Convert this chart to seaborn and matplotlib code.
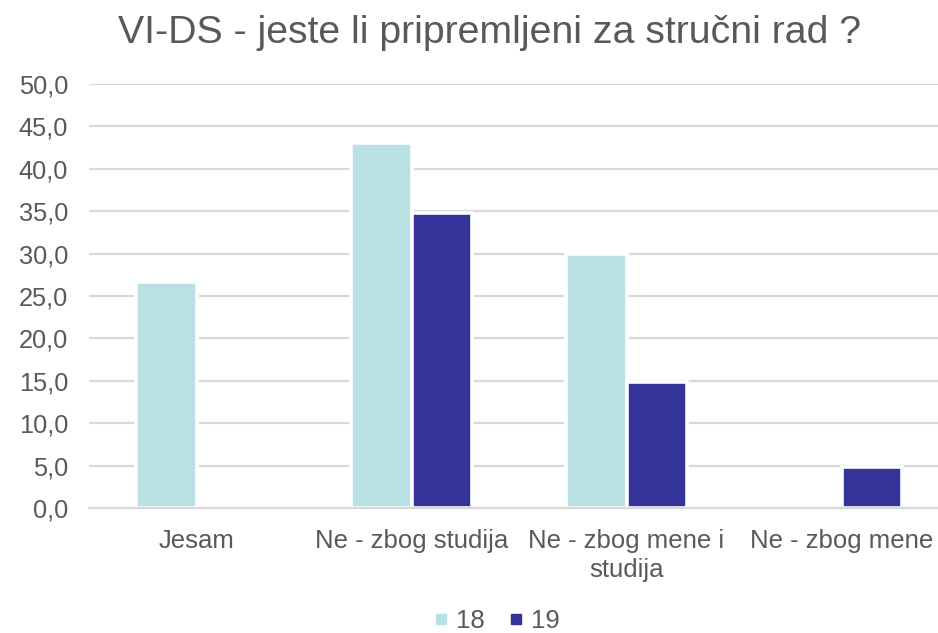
import pandas as pd
import matplotlib
matplotlib.use('Agg')
import matplotlib.pyplot as plt
import seaborn as sns
from matplotlib.ticker import FuncFormatter, FixedLocator
from matplotlib.lines import Line2D

# --- Data ---
categories = ['Jesam', 'Ne - zbog studija', 'Ne - zbog mene i\nstudija', 'Ne - zbog mene']
years = ['18', '19']
values_18 = [26.6, 43.1, 29.9, 0.0]
values_19 = [0.0, 34.8, 14.8, 4.8]
title = 'VI-DS - jeste li pripremljeni za stručni rad ?'

colors = {'18': '#B9E0E3', '19': '#333399'}
text_color = '#595959'
grid_color = '#D9D9D9'

df = pd.DataFrame({
    'Kategorija': categories * 2,
    'Godina': [years[0]] * len(categories) + [years[1]] * len(categories),
    'Vrijednost': values_18 + values_19,
})

sns.set_theme(style='white')
plt.rcParams['font.family'] = ['Liberation Sans', 'DejaVu Sans']

fig = plt.figure(figsize=(9.38, 6.33), dpi=100)
ax = fig.add_axes([89 / 938, (633 - 508) / 633, 860 / 938, (508 - 84) / 633])

sns.barplot(data=df, x='Kategorija', y='Vrijednost', hue='Godina',
            palette=colors, width=0.565, gap=0.0, edgecolor='white',
            linewidth=2.6, saturation=1, legend=False, ax=ax)

# --- Styling ---
ax.set_ylim(0, 50)
ax.set_xlim(-0.5, 3.5)
ax.yaxis.set_major_locator(FixedLocator([i * 5 for i in range(11)]))
ax.yaxis.set_major_formatter(FuncFormatter(lambda v, p: f'{v:.1f}'.replace('.', ',')))
ax.grid(axis='y', color=grid_color, linewidth=1.6)
ax.set_axisbelow(True)
ax.set_xlabel('')
ax.set_ylabel('')

for side in ['top', 'right', 'left']:
    ax.spines[side].set_visible(False)
ax.spines['bottom'].set_color(grid_color)
ax.spines['bottom'].set_linewidth(1.6)

ax.tick_params(axis='y', length=0, pad=15, labelsize=18.3, labelcolor=text_color)
ax.tick_params(axis='x', which='major', length=0, pad=15, labelsize=18.5, labelcolor=text_color)
ax.set_xticks([-0.5, 0.5, 1.5, 2.5, 3.5], minor=True)
ax.tick_params(axis='x', which='minor', length=5, width=1.5, color=grid_color, direction='out')
for lbl in ax.get_xticklabels():
    lbl.set_verticalalignment('top')
    lbl.set_linespacing(1.25)

fig.text(490 / 938, 1 - 33 / 633, title, ha='center', va='center', fontsize=28.3, color=text_color)

handles = [Line2D([], [], marker='s', linestyle='', markersize=7,
                  markerfacecolor=colors[y], markeredgecolor=colors[y]) for y in years]
fig.legend(handles, years, loc='center', bbox_to_anchor=(494 / 938, 1 - 621 / 633), ncol=2,
           frameon=False, fontsize=18.5, labelcolor=text_color,
           handletextpad=0.1, columnspacing=0.7, handlelength=1.0)

fig.savefig('out.png', dpi=100)
